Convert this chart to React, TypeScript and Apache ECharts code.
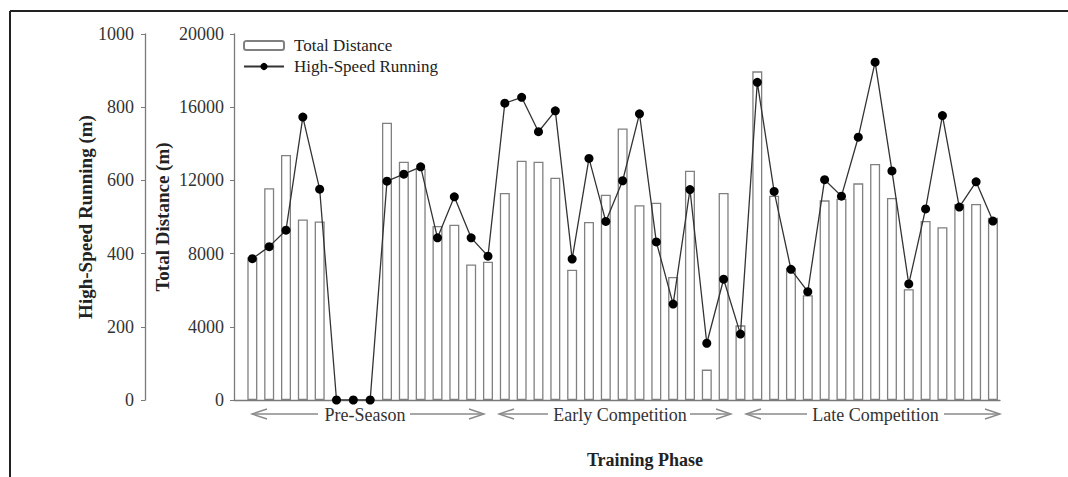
import React, { useEffect, useRef } from "react";
import * as echarts from "echarts";

// Weekly training load across the season (45 sessions)
const totalDistance = [
  7800, 11570, 13390, 9870, 9760, 0, 0, 0, 15150, 13020, 12640, 9510, 9580, 7410, 7560,
  11310, 13080, 13020, 12150, 7120, 9730, 11220, 14840, 10640, 10780, 6720, 12530, 1660, 11310,
  4080, 17960, 11160, 7210, 5720, 10910, 11000, 11840, 12900, 11040, 6050, 9780, 9440, 10710, 10710, 9960,
];
const highSpeedRunning = [
  386, 419, 464, 773, 576, 0, 0, 0, 598, 617, 637, 443, 555, 443, 393,
  811, 827, 733, 790, 385, 660, 488, 599, 782, 432, 262, 575, 155, 330,
  180, 868, 570, 357, 296, 602, 557, 718, 923, 626, 317, 522, 777, 527, 596, 489,
];
const seriesNames = ["Total Distance", "High-Speed Running"];
const phaseNames = ["Pre-Season", "Early Competition", "Late Competition"];

const SERIF = "'Liberation Serif', 'Times New Roman', serif";
const AXIS_GRAY = "#7a7a7a";

// Phase annotation layout: arrow tips, inner line ends and label centre
const phaseLayout = [
  { left: 252, leftEnd: 318, right: 484, rightStart: 410, cx: 365 },
  { left: 499, leftEnd: 548, right: 731, rightStart: 690, cx: 620 },
  { left: 746, leftEnd: 807, right: 1000, rightStart: 944, cx: 875.5 },
];
const ARROW_Y = 414;

function arrowGraphics() {
  const els: any[] = [];
  const lineStyle = { stroke: "#8a8a8a", lineWidth: 1.4, fill: null };
  phaseLayout.forEach((p, i) => {
    els.push({ type: "line", silent: true, shape: { x1: p.left, y1: ARROW_Y, x2: p.leftEnd, y2: ARROW_Y }, style: lineStyle });
    els.push({ type: "line", silent: true, shape: { x1: p.rightStart, y1: ARROW_Y, x2: p.right, y2: ARROW_Y }, style: lineStyle });
    els.push({
      type: "polyline", silent: true,
      shape: { points: [[p.left + 15, ARROW_Y - 5], [p.left, ARROW_Y], [p.left + 15, ARROW_Y + 5]] },
      style: lineStyle,
    });
    els.push({
      type: "polyline", silent: true,
      shape: { points: [[p.right - 15, ARROW_Y - 5], [p.right, ARROW_Y], [p.right - 15, ARROW_Y + 5]] },
      style: lineStyle,
    });
    els.push({
      type: "text", silent: true, x: p.cx, y: ARROW_Y + 1,
      style: { text: phaseNames[i], font: `18px ${SERIF}`, fill: "#333", align: "center", verticalAlign: "middle" },
    });
  });
  // figure frame (top and left edges)
  els.push({ type: "line", silent: true, shape: { x1: 10, y1: 11, x2: 1068, y2: 11 }, style: { stroke: "#222", lineWidth: 2 } });
  els.push({ type: "line", silent: true, shape: { x1: 10, y1: 11, x2: 10, y2: 477 }, style: { stroke: "#222", lineWidth: 2 } });
  els.push({
    type: "text", silent: true, x: 645, y: 460,
    style: { text: "Training Phase", font: `bold 18px ${SERIF}`, fill: "#222", align: "center", verticalAlign: "middle" },
  });
  return els;
}

export default function App() {
  const ref = useRef<HTMLDivElement>(null);

  useEffect(() => {
    if (!ref.current) return;
    const chart = echarts.init(ref.current, null, { renderer: "svg" });
    const axisLabel = {
      color: "#333",
      fontFamily: SERIF,
      fontSize: 18,
      formatter: (v: number) => String(v),
    };
    const nameStyle = { color: "#222", fontFamily: SERIF, fontSize: 19, fontWeight: "bold" as const };
    const axisLine = { show: true, onZero: false, lineStyle: { color: AXIS_GRAY, width: 1.3 } };

    chart.setOption({
      animation: false,
      backgroundColor: "#fff",
      grid: { left: 234, right: 68, top: 34, bottom: 77 },
      legend: {
        orient: "vertical",
        left: 243,
        top: 37,
        padding: 0,
        itemWidth: 40,
        itemHeight: 9,
        itemGap: 4,
        textStyle: { fontFamily: SERIF, fontSize: 17, color: "#222", padding: [0, 0, 0, 5], lineHeight: 17 },
        data: seriesNames,
      },
      xAxis: {
        type: "value",
        min: -1.09,
        max: 44.42,
        axisLine,
        axisTick: { show: false },
        axisLabel: { show: false },
        splitLine: { show: false },
      },
      yAxis: [
        {
          type: "value",
          position: "left",
          min: 0,
          max: 20000,
          interval: 4000,
          name: "Total Distance (m)",
          nameLocation: "middle",
          nameRotate: 90,
          nameGap: 62,
          nameMoveOverlap: false,
          nameTextStyle: nameStyle,
          axisLine,
          axisTick: { show: true, length: 4, lineStyle: { color: AXIS_GRAY } },
          axisLabel: { ...axisLabel, margin: 10 },
          splitLine: { show: false },
        },
        {
          type: "value",
          position: "left",
          offset: 89,
          min: 0,
          max: 1000,
          interval: 200,
          name: "High-Speed Running (m)",
          nameLocation: "middle",
          nameRotate: 90,
          nameGap: 50,
          nameMoveOverlap: false,
          nameTextStyle: nameStyle,
          axisLine,
          axisTick: { show: true, length: 4, lineStyle: { color: AXIS_GRAY } },
          axisLabel: { ...axisLabel, margin: 11 },
          splitLine: { show: false },
        },
      ],
      series: [
        {
          name: seriesNames[0],
          type: "bar",
          yAxisIndex: 0,
          barWidth: 10,
          data: totalDistance.map((v, i) => [i, v]),
          itemStyle: { color: "#fff", borderColor: "#808080", borderWidth: 1.3 },
        },
        {
          name: seriesNames[1],
          type: "line",
          yAxisIndex: 1,
          data: highSpeedRunning.map((v, i) => [i, v]),
          symbol: "circle",
          symbolSize: 9,
          itemStyle: { color: "#000" },
          lineStyle: { color: "#333", width: 1.3 },
          z: 3,
        },
      ],
      graphic: arrowGraphics(),
    });
    return () => chart.dispose();
  }, []);

  return (
    <div
      ref={ref}
      style={{ position: "fixed", left: 0, top: 0, width: 1068, height: 477, background: "#fff" }}
    />
  );
}
